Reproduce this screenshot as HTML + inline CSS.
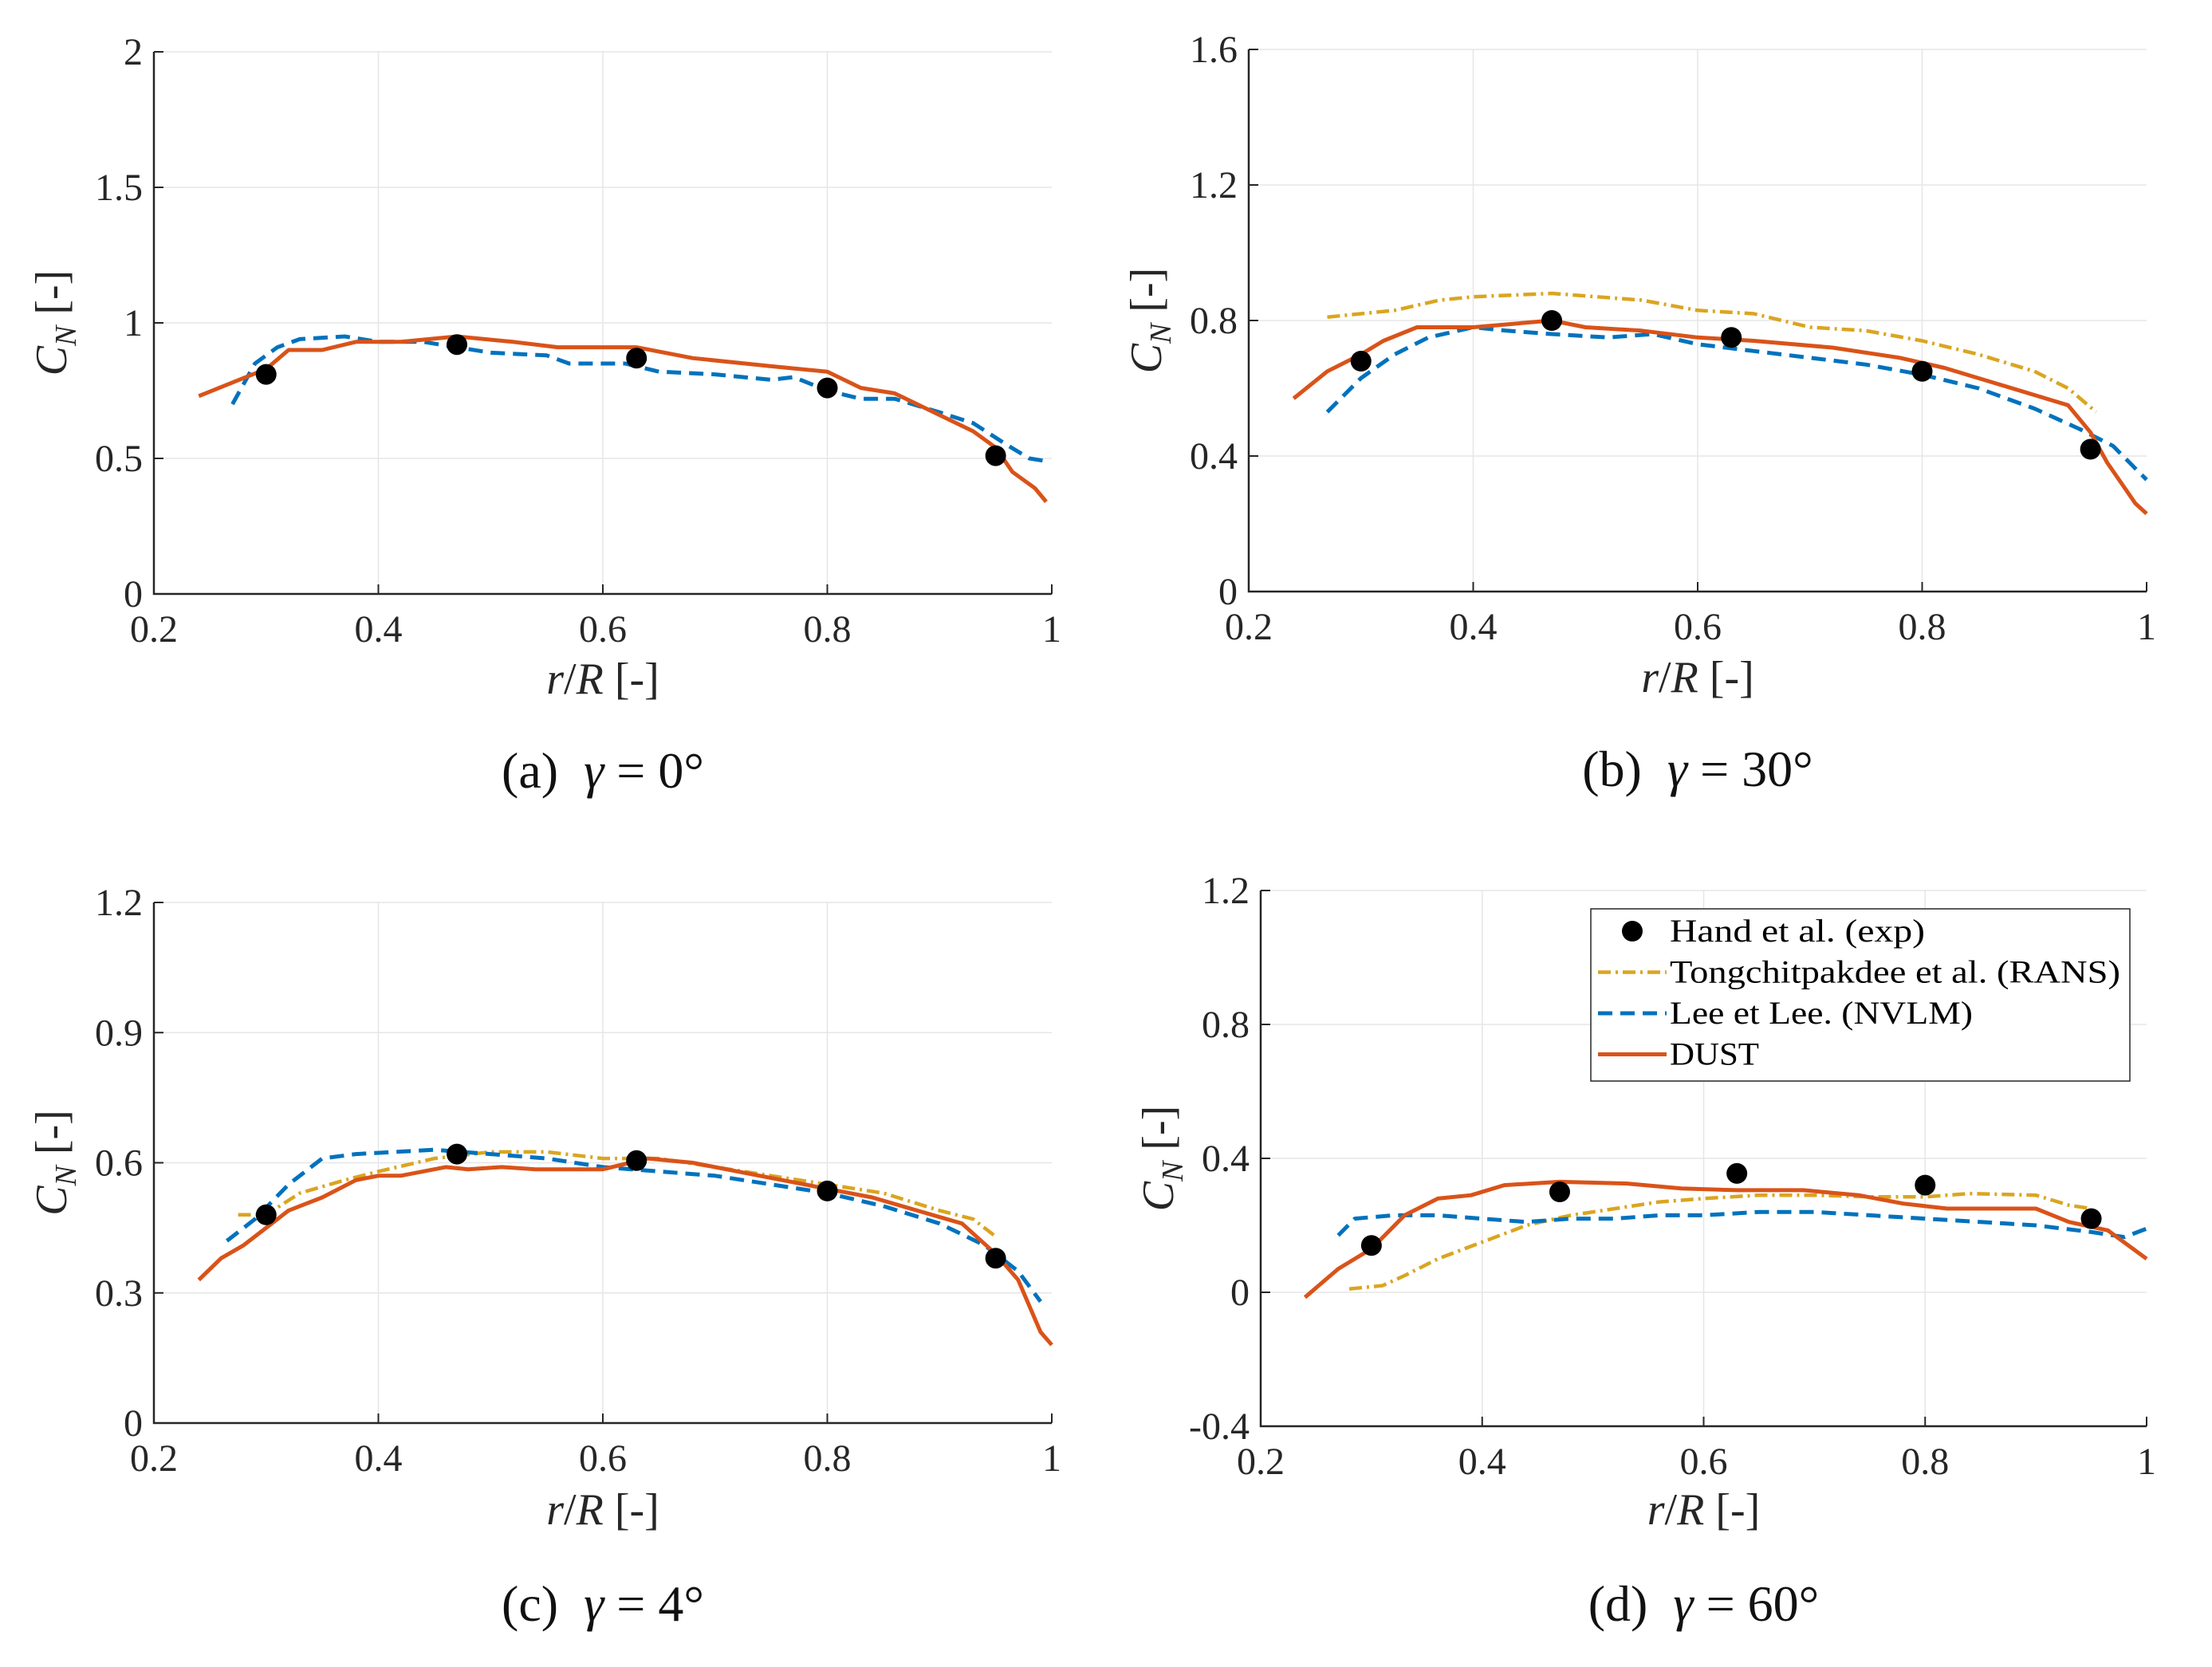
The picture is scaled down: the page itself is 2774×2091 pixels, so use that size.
<!DOCTYPE html>
<html><head><meta charset="utf-8"><style>
html,body{margin:0;padding:0;background:#fff;}
svg{display:block;font-family:"Liberation Serif","DejaVu Serif",serif;}
</style></head><body>
<svg id="fig" width="2774" height="2091" viewBox="0 0 2774 2091" xmlns="http://www.w3.org/2000/svg"></svg>
<script>
// ---- data ----
const xTicks = [0.2,0.4,0.6,0.8,1];
const xTickLabels = ["0.2","0.4","0.6","0.8","1"];
const yTicksA = [0,0.5,1,1.5,2];
const yTickLabelsA = ["0","0.5","1","1.5","2"];
const yTicksB = [0,0.4,0.8,1.2,1.6];
const yTickLabelsB = ["0","0.4","0.8","1.2","1.6"];
const yTicksC = [0,0.3,0.6,0.9,1.2];
const yTickLabelsC = ["0","0.3","0.6","0.9","1.2"];
const yTicksD = [-0.4,0,0.4,0.8,1.2];
const yTickLabelsD = ["-0.4","0","0.4","0.8","1.2"];

const expX = [0.30,0.47,0.63,0.80,0.95];
const expA = [0.81,0.92,0.87,0.76,0.51];
const expB = [0.68,0.80,0.75,0.65,0.42];
const expC = [0.48,0.62,0.605,0.535,0.38];
const expD = [0.14,0.30,0.355,0.32,0.22];

const dustAx = [0.24,0.27,0.30,0.32,0.35,0.38,0.42,0.47,0.52,0.56,0.63,0.68,0.75,0.80,0.83,0.86,0.90,0.93,0.95,0.965,0.985,0.995];
const dustAy = [0.73,0.78,0.83,0.90,0.90,0.93,0.93,0.95,0.93,0.91,0.91,0.87,0.84,0.82,0.76,0.74,0.66,0.60,0.54,0.45,0.39,0.34];
const nvlmAx = [0.27,0.29,0.31,0.33,0.37,0.40,0.44,0.47,0.50,0.55,0.57,0.62,0.65,0.70,0.75,0.77,0.80,0.83,0.86,0.90,0.93,0.96,0.98,0.995];
const nvlmAy = [0.70,0.85,0.91,0.94,0.95,0.93,0.93,0.91,0.89,0.88,0.85,0.85,0.82,0.81,0.79,0.80,0.75,0.72,0.72,0.67,0.63,0.55,0.50,0.49];

const ransBx = [0.27,0.30,0.33,0.37,0.40,0.47,0.55,0.60,0.65,0.70,0.75,0.80,0.85,0.90,0.93,0.955];
const ransBy = [0.81,0.82,0.83,0.86,0.87,0.88,0.86,0.83,0.82,0.78,0.77,0.74,0.70,0.65,0.60,0.53];
const nvlmBx = [0.27,0.30,0.33,0.36,0.40,0.43,0.47,0.52,0.56,0.60,0.65,0.70,0.75,0.80,0.85,0.90,0.94,0.97,1.0];
const nvlmBy = [0.53,0.63,0.70,0.75,0.78,0.77,0.76,0.75,0.76,0.73,0.71,0.69,0.67,0.64,0.60,0.54,0.48,0.43,0.33];
const dustBx = [0.24,0.27,0.30,0.32,0.35,0.40,0.47,0.50,0.55,0.60,0.65,0.72,0.78,0.82,0.86,0.90,0.93,0.95,0.965,0.99,1.0];
const dustBy = [0.57,0.65,0.70,0.74,0.78,0.78,0.80,0.78,0.77,0.75,0.74,0.72,0.69,0.66,0.62,0.58,0.55,0.47,0.38,0.26,0.23];

const ransCx = [0.275,0.30,0.33,0.37,0.40,0.45,0.50,0.55,0.60,0.65,0.70,0.75,0.80,0.85,0.90,0.93,0.95];
const ransCy = [0.48,0.48,0.53,0.56,0.58,0.61,0.625,0.625,0.61,0.61,0.59,0.57,0.55,0.53,0.49,0.47,0.43];
const nvlmCx = [0.265,0.29,0.32,0.35,0.38,0.45,0.50,0.55,0.60,0.65,0.70,0.75,0.80,0.85,0.90,0.94,0.97,0.99];
const nvlmCy = [0.42,0.47,0.55,0.61,0.62,0.63,0.62,0.61,0.59,0.58,0.57,0.55,0.53,0.50,0.46,0.41,0.35,0.28];
const dustCx = [0.24,0.26,0.28,0.30,0.32,0.35,0.38,0.40,0.42,0.46,0.48,0.51,0.54,0.60,0.64,0.68,0.72,0.76,0.80,0.84,0.88,0.92,0.95,0.97,0.99,1.0];
const dustCy = [0.33,0.38,0.41,0.45,0.49,0.52,0.56,0.57,0.57,0.59,0.585,0.59,0.585,0.585,0.61,0.60,0.58,0.56,0.54,0.52,0.49,0.46,0.39,0.33,0.21,0.18];

const ransDx = [0.28,0.31,0.33,0.36,0.40,0.44,0.48,0.52,0.56,0.60,0.65,0.70,0.75,0.80,0.84,0.90,0.93,0.95];
const ransDy = [0.01,0.02,0.05,0.10,0.15,0.20,0.23,0.25,0.27,0.28,0.29,0.29,0.285,0.285,0.295,0.29,0.26,0.25];
const nvlmDx = [0.27,0.285,0.32,0.36,0.40,0.44,0.48,0.52,0.56,0.60,0.65,0.70,0.75,0.80,0.85,0.90,0.95,0.98,1.0];
const nvlmDy = [0.17,0.22,0.23,0.23,0.22,0.21,0.22,0.22,0.23,0.23,0.24,0.24,0.23,0.22,0.21,0.20,0.18,0.165,0.19];
const dustDx = [0.24,0.27,0.30,0.33,0.36,0.39,0.42,0.47,0.53,0.58,0.63,0.69,0.74,0.78,0.82,0.90,0.93,0.965,1.0];
const dustDy = [-0.015,0.07,0.13,0.23,0.28,0.29,0.32,0.33,0.325,0.31,0.305,0.305,0.29,0.265,0.25,0.25,0.21,0.185,0.10];

const NS='http://www.w3.org/2000/svg';
const svg=document.getElementById('fig');
const C_DUST='#D95319', C_NVLM='#0072BD', C_RANS='#DAA520';
function mk(tag,attrs,parent){const e=document.createElementNS(NS,tag);for(const k in attrs)e.setAttribute(k,attrs[k]);(parent||svg).appendChild(e);return e;}

function panel(id,box,yT,yL,caption,series,exp,xlabelY,capY){
  const [L,T,R,B]=box; const y0=yT[0],y1=yT[yT.length-1];
  const sx=v=>L+(v-0.2)/(0.8)*(R-L);
  const sy=v=>B-(v-y0)/(y1-y0)*(B-T);
  const g=mk('g',{});
  
  
  xTicks.forEach((t,i)=>{ if(i>0&&i<xTicks.length-1){const l=mk('line',{x1:sx(t),x2:sx(t),y1:T,y2:B,stroke:'#e6e6e6','stroke-width':1.5},g);}});
  yT.forEach((t,i)=>{ if(i>0){const l=mk('line',{x1:L,x2:R,y1:sy(t),y2:sy(t),stroke:'#e6e6e6','stroke-width':1.5},g);}});
  const ax=mk('path',{d:`M${L},${T} L${L},${B} L${R},${B}`,fill:'none',stroke:'#262626','stroke-width':2.5},g);
  
  xTicks.forEach((t,i)=>{
    mk('line',{x1:sx(t),x2:sx(t),y1:B,y2:B-12,stroke:'#262626','stroke-width':2},g);
    const tx=mk('text',{x:sx(t),y:B+60,'font-size':48,'text-anchor':'middle',fill:'#262626'},g);tx.textContent=xTickLabels[i];
    
  });
  yT.forEach((t,i)=>{
    mk('line',{x1:L,x2:L+12,y1:sy(t),y2:sy(t),stroke:'#262626','stroke-width':2},g);
    const tx=mk('text',{x:L-14,y:sy(t)+16,'font-size':48,'text-anchor':'end',fill:'#262626'},g);tx.textContent=yL[i];
    
  });
  const xl=mk('text',{x:(L+R)/2,y:xlabelY,'font-size':56,'text-anchor':'middle',fill:'#262626'},g);
  xl.innerHTML='<tspan font-style="italic">r</tspan>/<tspan font-style="italic">R</tspan> [-]';
  
  const yc=(T+B)/2, yx=L-110;
  const yl=mk('text',{x:yx,y:yc,'font-size':56,'text-anchor':'middle',fill:'#262626',transform:`rotate(-90 ${yx} ${yc})`},g);
  yl.innerHTML='<tspan font-style="italic">C</tspan><tspan font-style="italic" font-size="38" dy="12">N</tspan><tspan dy="-12"> [-]</tspan>';
  
  const cp=mk('text',{x:(L+R)/2,y:capY,'font-size':64,'text-anchor':'middle',fill:'#111','xml:space':'preserve'},g);
  cp.setAttribute('style','white-space:pre');
  cp.innerHTML=caption;
  
  series.forEach(s=>{
    const d=s.x.map((v,i)=>(i?'L':'M')+sx(v).toFixed(1)+','+sy(s.y[i]).toFixed(1)).join(' ');
    const p=mk('path',{d,fill:'none',stroke:s.c,'stroke-width':s.w,'stroke-dasharray':s.dash||'none','stroke-linejoin':'round'},g);
    
    
  });
  exp.forEach((v,i)=>{
    const c=mk('circle',{cx:sx(expX[i]),cy:sy(v),r:13,fill:'#000'},g);
    
    
  });
}
const cap=(l,a)=>`(${l})  <tspan font-style="italic">γ</tspan> = ${a}°`;
panel('a',[193,65,1319,745],yTicksA,yTickLabelsA,cap('a','0'),
 [{x:nvlmAx,y:nvlmAy,c:C_NVLM,w:5,dash:'18 10',name:'nvlm-line'},{x:dustAx,y:dustAy,c:C_DUST,w:5,name:'dust-line'}],expA,870,988);
panel('b',[1566,62,2692,742],yTicksB,yTickLabelsB,cap('b','30'),
 [{x:ransBx,y:ransBy,c:C_RANS,w:4.5,dash:'16 6 3 6',name:'rans-line'},{x:nvlmBx,y:nvlmBy,c:C_NVLM,w:5,dash:'18 10',name:'nvlm-line'},{x:dustBx,y:dustBy,c:C_DUST,w:5,name:'dust-line'}],expB,868,986);
panel('c',[193,1132,1319,1785],yTicksC,yTickLabelsC,cap('c','4'),
 [{x:ransCx,y:ransCy,c:C_RANS,w:4.5,dash:'16 6 3 6',name:'rans-line'},{x:nvlmCx,y:nvlmCy,c:C_NVLM,w:5,dash:'18 10',name:'nvlm-line'},{x:dustCx,y:dustCy,c:C_DUST,w:5,name:'dust-line'}],expC,1912,2033);
panel('d',[1581,1117,2692,1789],yTicksD,yTickLabelsD,cap('d','60'),
 [{x:ransDx,y:ransDy,c:C_RANS,w:4.5,dash:'16 6 3 6',name:'rans-line'},{x:nvlmDx,y:nvlmDy,c:C_NVLM,w:5,dash:'18 10',name:'nvlm-line'},{x:dustDx,y:dustDy,c:C_DUST,w:5,name:'dust-line'}],expD,1912,2033);

const lg=mk('g',{});


mk('rect',{x:1995,y:1140,width:676,height:216,fill:'#fff',stroke:'#262626','stroke-width':1.5},lg);
const entries=[["Hand et al. (exp)",'dot'],["Tongchitpakdee et al. (RANS)",'rans'],["Lee et Lee. (NVLM)",'nvlm'],["DUST",'dust']];
const lens=[320,565,380,112];
entries.forEach((e,i)=>{
  const y=1168+i*51.5;
  if(e[1]==='dot'){mk('circle',{cx:2047,cy:y,r:13,fill:'#000'},lg);}
  else if(e[1]==='rans'){mk('line',{x1:2004,x2:2090,y1:y,y2:y,stroke:C_RANS,'stroke-width':4.5,'stroke-dasharray':'16 6 3 6'},lg);}
  else if(e[1]==='nvlm'){mk('line',{x1:2004,x2:2090,y1:y,y2:y,stroke:C_NVLM,'stroke-width':5,'stroke-dasharray':'18 10'},lg);}
  else {mk('line',{x1:2004,x2:2090,y1:y,y2:y,stroke:C_DUST,'stroke-width':5},lg);}
  const t=mk('text',{x:2094,y:y+13,'font-size':40,fill:'#000',textLength:lens[i],lengthAdjust:'spacingAndGlyphs'},lg);
  t.textContent=e[0];
  
  
});
</script>
</body></html>
